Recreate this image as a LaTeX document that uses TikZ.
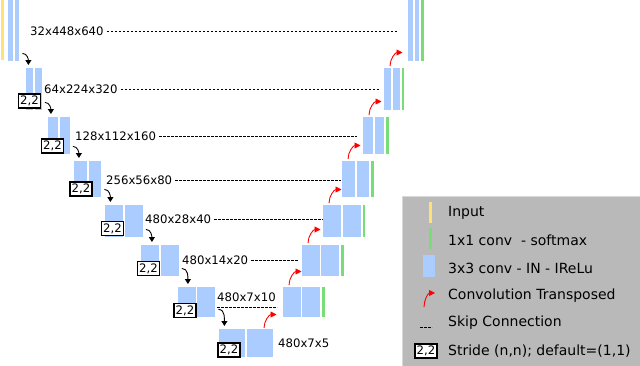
\documentclass[tikz,border=0pt]{standalone}
\usepackage{fontspec}
\setmainfont{DejaVu Sans}
\usetikzlibrary{arrows.meta,calc}
\definecolor{convblue}{HTML}{AACCFF}
\definecolor{outgreen}{HTML}{77DD77}
\definecolor{inyellow}{HTML}{FFE17A}
\definecolor{legendgray}{HTML}{B9B9B9}

\begin{document}
\begin{tikzpicture}[x=1pt,y=-1pt,
  bar/.style={draw=none,fill=convblue,inner sep=0pt,anchor=north west},
  dimlabel/.style={font=\fontsize{11.7}{13}\selectfont,inner sep=1pt,anchor=west},
  stride/.style={draw,fill=white,line width=1.3pt,inner sep=0pt,minimum width=22pt,minimum height=14pt,font=\fontsize{11.7}{13}\selectfont},
  skipline/.style={dash pattern=on 2.6pt off 1.4pt,line width=0.9pt},
  downarrow/.style={-{Triangle[width=6pt,length=5pt]},line width=0.9pt},
  upconv/.style={-{Triangle[width=6pt,length=6pt]},red,line width=0.9pt},
  legtext/.style={font=\fontsize{14}{16}\selectfont,anchor=west,inner sep=0pt}]
  \useasboundingbox (0,0) rectangle (640,365);

  % input
  \node[bar,fill=inyellow,minimum width=2.5pt,minimum height=60pt] (inp) at (1,0) {};

  % encoder and decoder blocks, one level per line
  \foreach \i/\w/\h/\ea/\eb/\da/\db/\t in {0/4.5/61/8/14.5/408/414.5/0,
      1/7/42/26/34.5/384/392.5/68, 2/9.5/37/48/60/363/374.5/117,
      3/12.5/36/74/88.5/342/356.5/161, 4/18/32/105/124.5/323/342.5/205,
      5/18/31/141/160.5/302/321/245, 6/18/30/178/197/283/302/287}{
    \node[bar,minimum width=\w pt,minimum height=\h pt] (ea\i) at (\ea,\t) {};
    \node[bar,minimum width=\w pt,minimum height=\h pt] (eb\i) at (\eb,\t) {};
    \node[bar,minimum width=\w pt,minimum height=\h pt] (da\i) at (\da,\t) {};
    \node[bar,minimum width=\w pt,minimum height=\h pt] (db\i) at (\db,\t) {};
    \node[bar,fill=outgreen,minimum width=2.5pt,minimum height=\h pt] (dc\i) at (\db+\w+2,\t) {};
  }
  % bottleneck
  \node[bar,minimum width=26pt,minimum height=28pt] (ea7) at (219,329) {};
  \node[bar,minimum width=26pt,minimum height=28pt] (eb7) at (247,329) {};

  % sizes
  \foreach \i/\x/\y/\txt in {0/29/31/32x448x640, 1/43/89/64x224x320,
      2/74/136/128x112x160, 3/105/180/256x56x80, 4/144/219/480x28x40,
      5/181/260/480x14x20, 6/216/297/480x7x10, 7/277/343/480x7x5}
    \node[dimlabel] (l\i) at (\x,\y) {\txt};

  % skip connections
  \foreach \i/\gap in {0/11,1/4,2/6,3/1,4/0,5/4}
    \draw[skipline] ([xshift=2pt]l\i.east) -- ($(l\i.east -| da\i.west)+(-\gap pt,0)$);
  \draw[skipline] ([shift={(1pt,-10pt)}]l6.west) -- ($(l6.west -| da6.west)+(-6pt,-10pt)$);

  % strides
  \foreach \i/\x/\y in {1/29.5/101, 2/52.5/146, 3/81/189, 4/112.5/228.5,
      5/148.5/268.5, 6/185/310.5, 7/229/350}
    \node[stride] (s\i) at (\x,\y) {2,2};

  % downsampling
  \foreach \i/\j in {0/1,1/2,2/3,3/4,4/5,5/6,6/7}
    \draw[downarrow] ([shift={(3pt,8pt)}]eb\i.south east) coordinate (ds\i)
      to[out=0,in=90] ($(ds\i |- ea\j.north)+(6pt,3pt)$);

  % transposed convolutions
  \draw[upconv] ([shift={(17pt,1pt)}]eb7.north west) coordinate (us7)
    to[out=90,in=180] ($(us7)+(12.5pt,13.5pt)$);
  \foreach \i in {1,...,6}
    \draw[upconv] ([shift={(6pt,2pt)}]da\i.north west) coordinate (us\i)
      to[out=90,in=180] ($(us\i)+(12.5pt,13.5pt)$);

  % legend
  \node[draw=white!85!black,fill=legendgray,line width=1pt,anchor=north west,
    minimum width=240pt,minimum height=171pt,inner sep=0pt] (legend) at (402,196) {};
  \node[bar,fill=inyellow,minimum width=3pt,minimum height=21pt] (kin) at (429,202) {};
  \node[bar,fill=outgreen,minimum width=3pt,minimum height=21pt] (kout) at (429,228) {};
  \node[bar,minimum width=12pt,minimum height=22pt] (kconv) at (423,255) {};
  \coordinate (kup1) at (424,307);
  \coordinate (kup2) at (435,293);
  \draw[upconv] (kup1) to[out=90,in=180] (kup2);
  \coordinate (ksk1) at (420,327);
  \coordinate (ksk2) at (432,327);
  \draw[skipline] (ksk1) -- (ksk2);
  \node[stride] (kst) at (426,351) {2,2};

  \node[legtext] (tin) at (448,213) {Input};
  \node[legtext] (tout) at (448,240) {1x1 conv~ - softmax};
  \node[legtext] (tconv) at (448,268) {3x3 conv - IN - IReLu};
  \node[legtext] (tup) at (448,296) {Convolution Transposed};
  \node[legtext] (tskip) at (448,323) {Skip Connection};
  \node[legtext] (tstride) at (448,351) {Stride (n,n); default=(1,1)};
\end{tikzpicture}
\end{document}
